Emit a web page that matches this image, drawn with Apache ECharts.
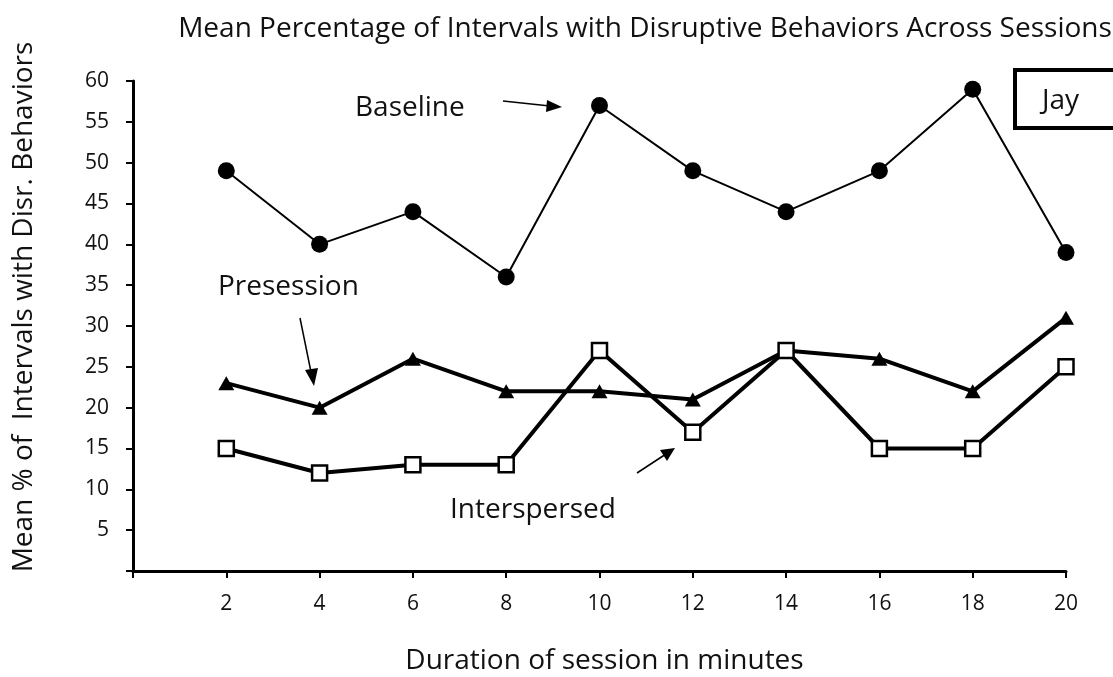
<!DOCTYPE html>
<html>
<head>
<meta charset="utf-8">
<script src="https://cdn.jsdelivr.net/npm/echarts@6/dist/echarts.min.js"></script>
<style>
  html, body { margin: 0; padding: 0; background: #fff; }
  #chart { width: 1113px; height: 677px; }
</style>
</head>
<body>
<div id="chart"></div>
<script>
var minutes = [2, 4, 6, 8, 10, 12, 14, 16, 18, 20];
var baseline = [49, 40, 44, 36, 57, 49, 44, 49, 59, 39];
var presession = [23, 20, 26, 22, 22, 21, 27, 26, 22, 31];
var interspersed = [15, 12, 13, 13, 27, 17, 27, 15, 15, 25];

var font = 'Open Sans';
var big = 28;

function pairs(vals) {
  return minutes.map(function (m, i) { return [m, vals[i]]; });
}

// text label placed by its left edge and vertical middle
function label(txt, x, y) {
  return {
    type: 'text', x: x, y: y,
    style: { text: txt, fontFamily: font, fontSize: big, fill: '#111', verticalAlign: 'middle' }
  };
}

var chart = echarts.init(document.getElementById('chart'));

var option = {
  backgroundColor: '#fff',
  animation: false,
  title: {
    text: 'Mean Percentage of Intervals with Disruptive Behaviors Across Sessions',
    left: 640,
    textAlign: 'center',
    top: 10,
    textStyle: { fontFamily: font, fontSize: big, fontWeight: 'normal', color: '#111' }
  },
  grid: { left: 133, right: 47, top: 81, bottom: 106, outerBoundsMode: 'none' },
  xAxis: {
    type: 'value',
    min: 0, max: 20, interval: 2,
    name: 'Duration of session in minutes',
    nameLocation: 'middle',
    nameGap: 76,
    nameTextStyle: { fontFamily: font, fontSize: big, color: '#111', padding: [0, 0, 0, 10] },
    axisLine: { lineStyle: { color: '#000', width: 3 } },
    axisTick: { length: 7, lineStyle: { color: '#000', width: 2 } },
    splitLine: { show: false },
    axisLabel: {
      fontFamily: font, fontSize: 21, color: '#111', margin: 23,
      formatter: function (v) { return v === 0 ? '' : v; }
    }
  },
  yAxis: {
    type: 'value',
    min: 0, max: 60, interval: 5,
    name: 'Mean % of  Intervals with Disr. Behaviors',
    nameLocation: 'middle',
    nameGap: 95,
    nameTextStyle: { fontFamily: font, fontSize: big, color: '#111', padding: [0, 0, 0, 38] },
    axisLine: { show: true, lineStyle: { color: '#000', width: 3 } },
    axisTick: { show: true, length: 7, lineStyle: { color: '#000', width: 2 } },
    splitLine: { show: false },
    axisLabel: {
      fontFamily: font, fontSize: 21, color: '#111', margin: 24,
      formatter: function (v) { return v === 0 ? '' : v; }
    }
  },
  series: [
    {
      name: 'Baseline',
      type: 'line',
      data: pairs(baseline),
      symbol: 'circle',
      symbolSize: 17,
      itemStyle: { color: '#000' },
      lineStyle: { color: '#000', width: 2 }
    },
    {
      name: 'Presession',
      type: 'line',
      data: pairs(presession),
      symbol: 'triangle',
      symbolSize: [16, 14],
      itemStyle: { color: '#000' },
      lineStyle: { color: '#000', width: 4 }
    },
    {
      name: 'Interspersed',
      type: 'line',
      data: pairs(interspersed),
      symbol: 'rect',
      symbolSize: 15,
      itemStyle: { color: '#fff', borderColor: '#000', borderWidth: 2.5 },
      lineStyle: { color: '#000', width: 4 }
    }
  ],
  graphic: [
    label('Baseline', 355, 108),
    { type: 'line', shape: { x1: 503, y1: 101, x2: 550, y2: 106 }, style: { stroke: '#000', lineWidth: 1.5 } },
    { type: 'polygon', shape: { points: [[562, 107], [547, 100], [546, 112]] }, style: { fill: '#000' } },

    label('Presession', 218, 287),
    { type: 'line', shape: { x1: 300, y1: 318, x2: 311, y2: 372 }, style: { stroke: '#000', lineWidth: 1.5 } },
    { type: 'polygon', shape: { points: [[314, 386], [305, 370], [318, 368]] }, style: { fill: '#000' } },

    label('Interspersed', 450, 510),
    { type: 'line', shape: { x1: 637, y1: 473, x2: 666, y2: 454 }, style: { stroke: '#000', lineWidth: 1.5 } },
    { type: 'polygon', shape: { points: [[675, 448], [660, 450], [667, 461]] }, style: { fill: '#000' } },

    { type: 'rect', shape: { x: 1015, y: 70, width: 110, height: 58 }, style: { fill: '#fff', stroke: '#000', lineWidth: 4 } },
    label('Jay', 1042, 101)
  ]
};

chart.setOption(option);
</script>
</body>
</html>
